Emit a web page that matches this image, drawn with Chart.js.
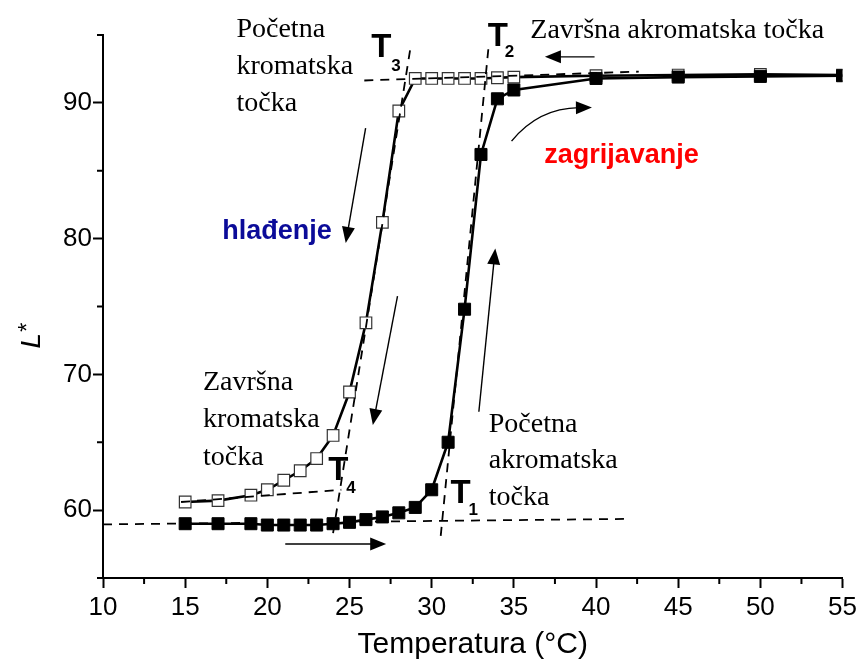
<!DOCTYPE html>
<html>
<head>
<meta charset="utf-8">
<script src="https://cdn.jsdelivr.net/npm/chart.js@4.4.1/dist/chart.umd.min.js"></script>
<style>
  html, body { margin: 0; padding: 0; background: #fff; }
  #wrap { width: 861px; height: 670px; }
</style>
</head>
<body>
<div id="wrap"><canvas id="chart" width="861" height="670"></canvas></div>
<script>
// zagrijavanje (puni kvadrati)
const heatT = [15, 17, 19, 20, 21, 22, 23, 24, 25, 26, 27, 28, 29, 30, 31, 32, 33, 34, 35, 40, 45, 50, 55];
const heatL = [59.0, 59.0, 59.0, 58.9, 58.9, 58.9, 58.9, 59.0, 59.1, 59.3, 59.5, 59.8, 60.2, 61.5, 65.0, 74.8, 86.2, 90.3, 90.95, 91.8, 91.9, 91.95, 92.0];

// hlađenje (prazni kvadrati)
const coolT = [15, 17, 19, 20, 21, 22, 23, 24, 25, 26, 27, 28, 29, 30, 31, 32, 33, 34, 35, 40, 45, 50, 55];
const coolL = [60.6, 60.7, 61.1, 61.5, 62.2, 62.9, 63.8, 65.5, 68.7, 73.8, 81.2, 89.4, 91.8, 91.8, 91.8, 91.8, 91.8, 91.85, 91.9, 92.0, 92.05, 92.1, 92.05];

// tangente za očitavanje T1..T4
const baseHeatT = [10, 41.7];
const baseHeatL = [58.95, 59.35];
const baseCoolT = [14.75, 24.5];
const baseCoolL = [60.6, 61.5];
const topT = [25.9, 42.6];
const topL = [91.65, 92.3];
const riseCoolT = [24.0, 28.7];
const riseCoolL = [58.3, 94.0];
const riseHeatT = [30.55, 33.45];
const riseHeatL = [58.1, 94.0];

const xLabels = [10, 15, 20, 25, 30, 35, 40, 45, 50, 55];
const yLabels = [60, 70, 80, 90];

const SANS = "'Liberation Sans', Arial, sans-serif";
const SERIF = "'Liberation Serif', 'Times New Roman', serif";

const pts = (xs, ys) => xs.map((x, i) => ({ x: x, y: ys[i] }));

const tangent = (xs, ys) => ({
  data: pts(xs, ys),
  borderColor: '#000',
  borderWidth: 1.8,
  borderDash: [9, 7],
  pointRadius: 0,
  order: 0
});

// strelice i natpisi (u koordinatama grafa)
const arrows = [
  { from: [39.91, 93.39], to: [36.89, 93.39] },
  { from: [21.09, 57.5], to: [27.23, 57.5] },
  { from: [25.98, 88.14], to: [24.77, 79.68] },
  { from: [27.92, 75.77], to: [26.42, 66.27] },
  { from: [32.87, 67.25], to: [33.87, 79.28] },
  { from: [34.86, 87.18], via: [36.49, 89.61], to: [39.75, 89.66] }
];

const notes = [
  { lines: ['Početna', 'kromatska', 'točka'], at: [18.12, 94.86], font: '28px ' + SERIF, color: '#000', gap: 37 },
  { lines: ['Završna akromatska točka'], at: [36.0, 94.76], font: '28px ' + SERIF, color: '#000', gap: 0 },
  { lines: ['Završna', 'kromatska', 'točka'], at: [16.08, 68.87], font: '28px ' + SERIF, color: '#000', gap: 37.5 },
  { lines: ['Početna', 'akromatska', 'točka'], at: [33.47, 65.77], font: '28px ' + SERIF, color: '#000', gap: 36.7 },
  { lines: ['hlađenje'], at: [17.26, 80.0], font: 'bold 27px ' + SANS, color: '#0b0b99', gap: 0 },
  { lines: ['zagrijavanje'], at: [36.85, 85.54], font: 'bold 27px ' + SANS, color: '#ff0000', gap: 0 }
];

const tLabels = [
  { sub: '3', at: [26.32, 93.39], dx: 20, dy: 14 },
  { sub: '2', at: [33.41, 94.18], dx: 17, dy: 11 },
  { sub: '4', at: [23.70, 62.21], dx: 18, dy: 13 },
  { sub: '1', at: [31.15, 60.49], dx: 18, dy: 12 }
];

function head(ctx, x0, y0, x1, y1) {
  const a = Math.atan2(y1 - y0, x1 - x0);
  const len = 16, half = 6.5;
  ctx.beginPath();
  ctx.moveTo(x1, y1);
  ctx.lineTo(x1 - len * Math.cos(a) + half * Math.sin(a), y1 - len * Math.sin(a) - half * Math.cos(a));
  ctx.lineTo(x1 - len * Math.cos(a) - half * Math.sin(a), y1 - len * Math.sin(a) + half * Math.cos(a));
  ctx.closePath();
  ctx.fill();
  return [x1 - len * 0.8 * Math.cos(a), y1 - len * 0.8 * Math.sin(a)];
}

const extras = {
  id: 'extras',
  afterDraw(chart) {
    const ctx = chart.ctx;
    const xs = chart.scales.x, ys = chart.scales.y;
    const P = (p) => [xs.getPixelForValue(p[0]), ys.getPixelForValue(p[1])];
    ctx.save();

    // sporedne crtice na osima
    ctx.strokeStyle = '#000';
    ctx.lineWidth = 2;
    xs.ticks.forEach(t => {
      if (xLabels.includes(t.value)) return;
      const px = xs.getPixelForValue(t.value);
      ctx.beginPath();
      ctx.moveTo(px, xs.top);
      ctx.lineTo(px, xs.top + 6);
      ctx.stroke();
    });
    ys.ticks.forEach(t => {
      if (yLabels.includes(t.value)) return;
      const py = ys.getPixelForValue(t.value);
      ctx.beginPath();
      ctx.moveTo(ys.right - 6, py);
      ctx.lineTo(ys.right, py);
      ctx.stroke();
    });

    // strelice
    ctx.fillStyle = '#000';
    ctx.lineWidth = 1.4;
    arrows.forEach(a => {
      const f = P(a.from), t = P(a.to);
      if (a.via) {
        const v = P(a.via);
        const b = head(ctx, v[0], v[1], t[0], t[1]);
        ctx.beginPath();
        ctx.moveTo(f[0], f[1]);
        ctx.quadraticCurveTo(v[0], v[1], b[0], b[1]);
        ctx.stroke();
      } else {
        const b = head(ctx, f[0], f[1], t[0], t[1]);
        ctx.beginPath();
        ctx.moveTo(f[0], f[1]);
        ctx.lineTo(b[0], b[1]);
        ctx.stroke();
      }
    });

    // natpisi
    ctx.textAlign = 'left';
    ctx.textBaseline = 'alphabetic';
    notes.forEach(n => {
      const p = P(n.at);
      ctx.font = n.font;
      ctx.fillStyle = n.color;
      n.lines.forEach((s, i) => ctx.fillText(s, p[0], p[1] + i * n.gap));
    });

    ctx.fillStyle = '#000';
    tLabels.forEach(t => {
      const p = P(t.at);
      ctx.font = 'bold 33px ' + SANS;
      ctx.fillText('T', p[0], p[1]);
      ctx.font = 'bold 17px ' + SANS;
      ctx.fillText(t.sub, p[0] + t.dx, p[1] + t.dy);
    });

    // naslov osi y: L*
    ctx.translate(40, ys.getPixelForValue(71.9));
    ctx.rotate(-Math.PI / 2);
    ctx.font = 'italic 28px ' + SANS;
    ctx.fillText('L', 0, 0);
    const w = ctx.measureText('L').width;
    ctx.font = '24px ' + SANS;
    ctx.fillText('*', w + 1, -5);

    ctx.restore();
  }
};

new Chart(document.getElementById('chart'), {
  type: 'line',
  data: {
    datasets: [
      {
        label: 'zagrijavanje',
        data: pts(heatT, heatL),
        borderColor: '#000',
        borderWidth: 2.6,
        pointStyle: 'rect',
        pointRadius: 8.5,
        pointBackgroundColor: '#000',
        pointBorderColor: '#000',
        pointBorderWidth: 1,
        order: 1
      },
      {
        label: 'hlađenje',
        data: pts(coolT, coolL),
        borderColor: '#000',
        borderWidth: 2.6,
        pointStyle: 'rect',
        pointRadius: 8.2,
        pointBackgroundColor: '#fff',
        pointBorderColor: '#333',
        pointBorderWidth: 1.2,
        order: 2
      },
      tangent(baseHeatT, baseHeatL),
      tangent(baseCoolT, baseCoolL),
      tangent(topT, topL),
      tangent(riseCoolT, riseCoolL),
      tangent(riseHeatT, riseHeatL)
    ]
  },
  options: {
    responsive: false,
    animation: false,
    layout: { padding: { top: 35, right: 15, left: 0, bottom: 0 } },
    plugins: {
      legend: { display: false },
      tooltip: { enabled: false }
    },
    scales: {
      x: {
        type: 'linear',
        min: 10,
        max: 55,
        afterFit: s => { s.height = 92; },
        border: { display: true, color: '#000', width: 2 },
        grid: {
          drawOnChartArea: false,
          drawTicks: true,
          tickLength: 10,
          tickWidth: 2,
          tickColor: c => xLabels.includes(c.tick.value) ? '#000' : 'rgba(0,0,0,0)'
        },
        ticks: {
          stepSize: 2.5,
          autoSkip: false,
          maxRotation: 0,
          padding: 4,
          color: '#000',
          font: { family: SANS, size: 26 },
          callback: v => xLabels.includes(v) ? String(v) : ''
        },
        title: {
          display: true,
          text: 'Temperatura (°C)',
          color: '#000',
          font: { family: SANS, size: 30 },
          padding: { top: 0, bottom: 7 }
        }
      },
      y: {
        min: 55,
        max: 95,
        afterFit: s => { s.width = 103; },
        border: { display: true, color: '#000', width: 2 },
        grid: {
          drawOnChartArea: false,
          drawTicks: true,
          tickLength: 10,
          tickWidth: 2,
          tickColor: c => yLabels.includes(c.tick.value) ? '#000' : 'rgba(0,0,0,0)'
        },
        ticks: {
          stepSize: 5,
          autoSkip: false,
          padding: 1,
          color: '#000',
          font: { family: SANS, size: 26 },
          callback: v => yLabels.includes(v) ? String(v) : ''
        }
      }
    }
  },
  plugins: [extras]
});
</script>
</body>
</html>
